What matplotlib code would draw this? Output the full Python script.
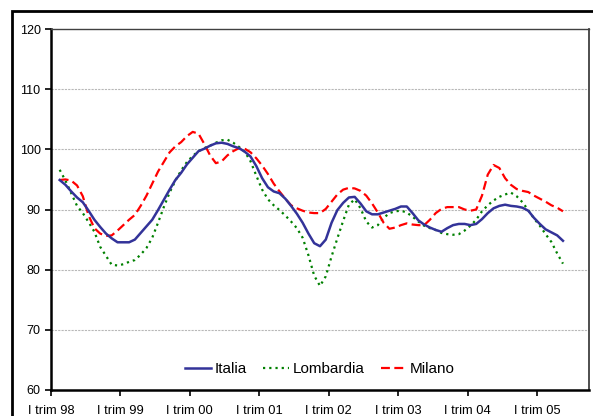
import numpy as np
import matplotlib
matplotlib.use('Agg')
import matplotlib.pyplot as plt
from matplotlib.patches import Rectangle

plt.rcParams['font.family'] = ['Liberation Sans', 'DejaVu Sans']

# indici mensili (feb 98 - mag 05)
mesi = np.arange(1, 89) + 0.5

italia = [94.9, 94.1, 93.0, 92.0, 91.2, 89.8, 88.3, 87.1, 86.0, 85.2,
          84.55, 84.55, 84.55, 85.0, 86.1, 87.2, 88.3, 89.9, 91.6, 93.3,
          94.9, 96.1, 97.5, 98.6, 99.7, 100.1, 100.6, 101.0, 101.1, 100.9,
          100.5, 100.2, 99.6, 98.8, 97.2, 95.2, 93.7, 93.0, 92.7, 91.8,
          90.6, 89.3, 87.8, 86.0, 84.4, 83.9, 85.0, 87.8, 89.9, 91.1,
          92.0, 92.1, 91.0, 89.7, 89.2, 89.2, 89.5, 89.8, 90.1, 90.5,
          90.5, 89.4, 88.2, 87.5, 87.0, 86.6, 86.3, 86.9, 87.4, 87.6,
          87.6, 87.4, 87.6, 88.4, 89.4, 90.2, 90.6, 90.8, 90.6, 90.5,
          90.3, 89.8, 88.6, 87.6, 86.7, 86.2, 85.7, 84.8]

lombardia = [96.6, 94.8, 92.7, 90.6, 89.4, 87.9, 86.3, 83.8, 82.3, 80.8,
             80.7, 80.9, 81.3, 81.6, 82.5, 83.6, 85.3, 87.8, 90.4, 92.8,
             94.8, 96.5, 97.9, 98.9, 99.7, 100.2, 100.6, 101.1, 101.5, 101.6,
             101.1, 100.4, 99.6, 98.0, 95.6, 93.3, 91.7, 90.7, 89.9, 89.0,
             88.0, 86.9, 85.3, 82.4, 79.0, 77.3, 78.9, 82.2, 85.2, 88.1,
             90.8, 91.7, 90.2, 88.0, 87.0, 87.4, 88.6, 89.4, 89.7, 89.8,
             89.5, 88.8, 88.0, 87.3, 86.9, 86.6, 86.1, 85.9, 85.8, 85.9,
             86.5, 87.3, 88.3, 89.7, 90.7, 91.5, 92.1, 92.5, 92.8, 92.2,
             91.2, 89.9, 88.5, 87.3, 85.9, 84.6, 82.7, 81.0]

milano = [94.9, 95.0, 94.8, 94.0, 92.2, 89.0, 86.9, 86.0, 85.6, 85.7,
          86.5, 87.4, 88.3, 89.1, 90.6, 92.3, 94.3, 96.3, 97.9, 99.5,
          100.5, 101.2, 102.2, 102.9, 102.6, 100.9, 99.0, 97.7, 98.0, 99.0,
          99.7, 100.2, 100.1, 99.5, 98.5, 97.3, 95.9, 94.3, 93.0, 91.8,
          90.7, 90.2, 89.8, 89.5, 89.4, 89.4, 90.1, 91.3, 92.5, 93.3,
          93.6, 93.5, 93.1, 92.3, 91.0, 89.5, 87.8, 86.8, 87.0, 87.4,
          87.7, 87.5, 87.4, 87.4, 88.3, 89.4, 90.1, 90.4, 90.4, 90.4,
          90.0, 89.8, 90.0, 92.3, 95.8, 97.4, 96.9, 95.2, 94.1, 93.4,
          93.1, 92.9, 92.3, 91.8, 91.3, 90.7, 90.3, 89.7]

etichette = ['I trim 98', 'I trim 99', 'I trim 00', 'I trim 01',
             'I trim 02', 'I trim 03', 'I trim 04', 'I trim 05']

fig = plt.figure(figsize=(5.93, 4.16), dpi=100)
ax = fig.add_axes([51/593, 1 - 390/416, 538/593, 361/416])

# cornice esterna (tagliata a destra e in basso)
fig.patches.append(Rectangle((12/593, -0.2), 1.5, 1 - 11.5/416 + 0.2,
                             transform=fig.transFigure, fill=False,
                             edgecolor='black', linewidth=2.0, clip_on=False))

ax.plot(mesi, italia, color='#333399', lw=1.8, label='Italia', zorder=3)
ax.plot(mesi, lombardia, color='#008000', lw=1.6, linestyle=(0, (1, 1.8)),
        label='Lombardia', zorder=2)
ax.plot(mesi, milano, color='#ff0000', lw=1.6, linestyle=(0, (4, 2)),
        label='Milano', zorder=2)

ax.set_xlim(0, 93)
ax.set_ylim(60, 120)
ax.set_xticks(np.arange(0, 85, 12))
ax.set_xticklabels(etichette, fontsize=9.3)
ax.set_yticks(np.arange(60, 121, 10))
ax.tick_params(axis='y', labelsize=9, length=4, width=1.2, pad=3.5)
ax.tick_params(axis='x', length=4, width=1.2, pad=7)

for y in range(70, 120, 10):
    ax.axhline(y, color='#b8b8b8', lw=0.8, linestyle=(0, (2, 1)), zorder=1)

ax.spines['left'].set_linewidth(1.8)
ax.spines['bottom'].set_linewidth(1.8)
ax.spines['top'].set_color('#404040')
ax.spines['right'].set_color('#404040')
ax.spines['top'].set_linewidth(1.0)
ax.spines['right'].set_linewidth(1.3)

ax.legend(loc='lower center', bbox_to_anchor=(0.5, 0.0), ncol=3,
          frameon=False, fontsize=11, handlelength=1.7, handletextpad=0.2,
          columnspacing=1.1)

fig.savefig('out.png', dpi=100)
